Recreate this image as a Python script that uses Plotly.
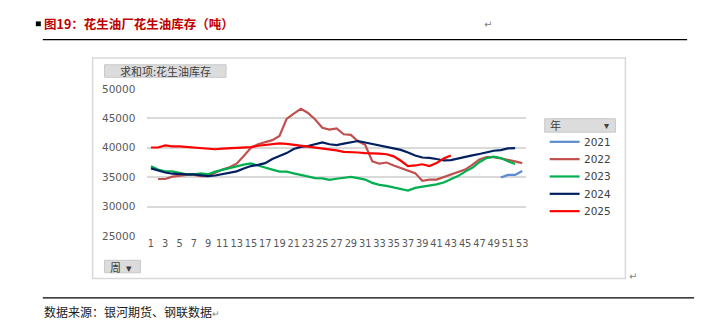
import plotly.graph_objects as go

W, H = 720, 326

weeks = list(range(1, 54))
years = ["2021", "2022", "2023", "2024", "2025"]
colors = ["#5b8bd0", "#c0504d", "#00b050", "#002060", "#ff0000"]

# 2021: weeks 50-53
w2021 = [50, 51, 52, 53]
v2021 = [34950, 35400, 35400, 36050]

# 2022: weeks 2-53
w2022 = list(range(2, 54))
v2022 = [34700, 34700, 35100, 35300, 35400, 35400, 35200, 35200, 35800, 36300,
         36700, 37300, 38600, 40000, 40600, 40900, 41300, 42000, 44900, 45800,
         46600, 45900, 44800, 43400, 43100, 43300, 42300, 42200, 41100, 40500,
         37700, 37300, 37500, 37000, 36600, 36200, 35700, 34400, 34600, 34600,
         35050, 35500, 35900, 36300, 37100, 38000, 38400, 38400, 38200, 38000,
         37700, 37400]

# 2023: weeks 1-52
w2023 = list(range(1, 53))
v2023 = [36850, 36300, 36000, 36000, 35750, 35500, 35500, 35650, 35500, 35950,
         36250, 36500, 36850, 37150, 37350, 37000, 36700, 36300, 35950, 35950,
         35650, 35400, 35100, 34850, 34800, 34550, 34750, 34950, 35050, 34850,
         34600, 34050, 33700, 33550, 33300, 32950, 32750, 33200, 33400, 33550,
         33800, 34100, 34600, 35200, 35950, 36600, 37550, 38250, 38500, 38250,
         37700, 37250]

# 2024: weeks 1-52
w2024 = list(range(1, 53))
v2024 = [36500, 36100, 35800, 35600, 35500, 35500, 35500, 35300, 35200, 35300,
         35500, 35800, 36000, 36500, 36900, 37100, 37400, 38100, 38600, 39100,
         39800, 40150, 40300, 40550, 40900, 40600, 40450, 40700, 40950, 41150,
         40900, 40650, 40450, 40200, 40000, 39650, 39200, 38700, 38350, 38300,
         38100, 37850, 37900, 38200, 38450, 38700, 38950, 39250, 39500, 39600,
         39900, 39950]

# 2025: weeks 1-43
w2025 = list(range(1, 44))
v2025 = [40050, 40050, 40400, 40250, 40250, 40150, 40150, 40000, 39850, 39750,
         39850, 39900, 40000, 40050, 40100, 40350, 40500, 40650, 40750, 40650,
         40500, 40300, 40200, 40000, 39900, 39800, 39550, 39300, 39300, 39200,
         39100, 39100, 39000, 38900, 38550, 37800, 36900, 37000, 37200, 36900,
         37400, 38200, 38700]

series_x = [w2021, w2022, w2023, w2024, w2025]
series_y = [v2021, v2022, v2023, v2024, v2025]

y_ticks = [25000, 30000, 35000, 40000, 45000, 50000]
x_ticks = list(range(1, 54, 2))

title_text = "图19：花生油厂花生油库存（吨）"
source_text = "数据来源：银河期货、钢联数据"
field_btn = "求和项:花生油库存"
axis_btn = "周"
legend_btn = "年"

FONT = "Noto Sans CJK SC"

def px(x):
    return x / W

def py(y):
    return 1 - y / H

fig = go.Figure()
for yr, c, xs, ys in zip(years, colors, series_x, series_y):
    fig.add_trace(go.Scatter(x=xs, y=ys, mode="lines", name=yr,
                             line=dict(color=c, width=2.2), showlegend=False))

# plot area: x 148..528, y 86..239
fig.update_layout(
    width=W, height=H,
    margin=dict(l=0, r=0, t=0, b=0),
    paper_bgcolor="white", plot_bgcolor="white",
    font=dict(family=FONT, size=11, color="#595959"),
    xaxis=dict(domain=[px(148), px(528)], range=[0.5, 53.5],
               tickmode="array", tickvals=x_ticks, ticktext=[str(v) for v in x_ticks],
               tickangle=0, showgrid=False, zeroline=False, showline=False, ticks="",
               tickfont=dict(family="DejaVu Sans", size=9.8, color="#595959")),
    yaxis=dict(domain=[py(239), py(86)], range=[25000, 50000],
               tickmode="array", tickvals=y_ticks, ticktext=[str(v) for v in y_ticks],
               showgrid=True, gridcolor="#d9d9d9", gridwidth=1.5, zeroline=False,
               showline=False, ticks="", ticklabelstandoff=11,
               tickfont=dict(family="DejaVu Sans", size=10.5, color="#595959")),
    showlegend=False,
)

shapes = []
# title underline and bottom line
shapes.append(dict(type="line", xref="paper", yref="paper", x0=px(43), x1=px(690),
                   y0=py(35), y1=py(35), line=dict(color="black", width=1.3)))
shapes.append(dict(type="line", xref="paper", yref="paper", x0=px(43), x1=px(697),
                   y0=py(303), y1=py(303), line=dict(color="black", width=1.3)))
# bullet
shapes.append(dict(type="rect", xref="paper", yref="paper", x0=px(36), x1=px(41),
                   y0=py(21), y1=py(16), fillcolor="black", line=dict(width=0)))
# chart frame
shapes.append(dict(type="rect", xref="paper", yref="paper", x0=px(93), x1=px(628),
                   y0=py(283), y1=py(54), line=dict(color="#d9d9d9", width=1.5)))
# buttons
for (x0, x1, y0, y1) in [(105, 227, 61, 74), (105, 141, 264, 277), (547, 618, 117, 131)]:
    shapes.append(dict(type="rect", xref="paper", yref="paper", x0=px(x0), x1=px(x1),
                       y0=py(y1), y1=py(y0), fillcolor="#dcdcdc",
                       line=dict(color="#c8c8c8", width=1)))

ann = []
# manual legend (18 px row spacing as in the reference)
for i, (yr, c) in enumerate(zip(years, colors)):
    ly = 141 + 18 * i
    shapes.append(dict(type="line", xref="paper", yref="paper", x0=px(552), x1=px(582),
                       y0=py(ly), y1=py(ly), line=dict(color=c, width=2.2)))
    ann.append(dict(text=yr, x=px(584), y=py(ly), xref="paper", yref="paper",
                    xanchor="left", yanchor="middle", showarrow=False,
                    font=dict(family="DejaVu Sans", size=10.5, color="#404040")))
fig.update_layout(shapes=shapes)

ann.append(dict(text="<b>" + title_text + "</b>", x=px(42), y=py(18), xref="paper", yref="paper",
                xanchor="left", yanchor="middle", showarrow=False,
                font=dict(family=FONT, size=12.5, color="#c00000")))
ann.append(dict(text="↵", x=px(484), y=py(19), xref="paper", yref="paper",
                xanchor="left", yanchor="middle", showarrow=False,
                font=dict(family="DejaVu Sans", size=10, color="#808080")))
ann.append(dict(text="↵", x=px(630), y=py(281), xref="paper", yref="paper",
                xanchor="left", yanchor="middle", showarrow=False,
                font=dict(family="DejaVu Sans", size=10, color="#808080")))
ann.append(dict(text=source_text + "<span style='color:#808080;font-size:9px'>↵</span>",
                x=px(42), y=py(317), xref="paper", yref="paper",
                xanchor="left", yanchor="middle", showarrow=False,
                font=dict(family=FONT, size=12, color="#1a1a1a")))
ann.append(dict(text=field_btn, x=px(166), y=py(67.5), xref="paper", yref="paper",
                xanchor="center", yanchor="middle", showarrow=False,
                font=dict(family=FONT, size=11, color="#404040")))
ann.append(dict(text=axis_btn + "  ▾", x=px(108), y=py(270.5), xref="paper", yref="paper",
                xanchor="left", yanchor="middle", showarrow=False,
                font=dict(family=FONT, size=11, color="#404040")))
ann.append(dict(text=legend_btn, x=px(550), y=py(124), xref="paper", yref="paper",
                xanchor="left", yanchor="middle", showarrow=False,
                font=dict(family=FONT, size=11, color="#404040")))
ann.append(dict(text="▾", x=px(614), y=py(124), xref="paper", yref="paper",
                xanchor="right", yanchor="middle", showarrow=False,
                font=dict(family="DejaVu Sans", size=10, color="#404040")))
fig.update_layout(annotations=ann)

fig.write_html("out.html")
